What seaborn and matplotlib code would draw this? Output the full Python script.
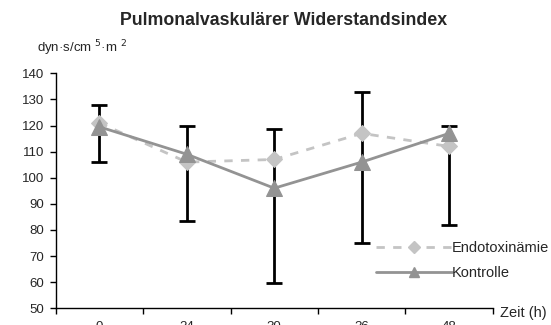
import numpy as np
import pandas as pd
import matplotlib
matplotlib.use("Agg")
import matplotlib.pyplot as plt
import seaborn as sns
from matplotlib.lines import Line2D

zeit_labels = ["0", "24", "30", "36", "48"]
endotoxin = [121, 106, 107, 117, 112]
kontrolle = [119.5, 109, 96, 106, 117]
err_low = [106, 83.5, 59.5, 75, 82]
err_high = [128, 120, 118.5, 133, 120]

sns.set_theme(style="white")
plt.rcParams['font.family'] = ['Liberation Sans', 'DejaVu Sans']

fig = plt.figure(figsize=(5.51, 3.25), dpi=100)
ax = fig.add_axes([0.101, 0.0514, 0.7935, 0.723])

x = np.arange(len(zeit_labels))
df = pd.DataFrame({"x": x, "Endotoxinämie": endotoxin, "Kontrolle": kontrolle})

lo = np.array(err_low)
hi = np.array(err_high)
mid = (lo + hi) / 2
half = (hi - lo) / 2
ax.errorbar(x, mid, yerr=half, fmt='none', ecolor='black', elinewidth=2.0,
            capsize=5.5, capthick=2.0, zorder=2)

sns.lineplot(data=df, x="x", y="Endotoxinämie", ax=ax, color="#c4c4c4",
             linestyle=(0, (3, 3)), linewidth=2.0, marker="D", markersize=8,
             markeredgecolor="#c4c4c4", zorder=3)
sns.lineplot(data=df, x="x", y="Kontrolle", ax=ax, color="#939393",
             linestyle="-", linewidth=2.0, marker="^", markersize=11,
             markeredgecolor="#939393", zorder=4)

ax.set_xlim(-0.5, len(zeit_labels) - 0.5)
ax.set_ylim(50, 140)
ax.set_yticks(np.arange(50, 141, 10))
ax.set_xticks(np.arange(-0.5, len(zeit_labels)), labels=[""] * (len(zeit_labels) + 1))
ax.set_xticks(x, labels=zeit_labels, minor=True)
ax.tick_params(axis='x', which='major', direction='out', length=4, width=1, color='black')
ax.tick_params(axis='x', which='minor', length=0, pad=9, labelsize=9.5)
ax.tick_params(axis='y', direction='out', length=4, width=1, color='black', labelsize=9.5, pad=4)
ax.tick_params(axis='x', which='major', bottom=True)
ax.tick_params(axis='y', left=True)
ax.set_xlabel("")
ax.set_ylabel("")
for s in ["top", "right"]:
    ax.spines[s].set_visible(False)
for s in ["left", "bottom"]:
    ax.spines[s].set_color("black")
    ax.spines[s].set_linewidth(1)

fig.text(0.514, 0.938, "Pulmonalvaskulärer Widerstandsindex", ha="center", va="center",
         fontsize=12.8, fontweight="bold")
fig.text(0.067, 0.853, "dyn·s/cm $^{5}$·m $^{2}$", ha="left", va="center", fontsize=9.5)
fig.text(0.907, 0.038, "Zeit (h)", ha="left", va="center", fontsize=10.5)

handles = [Line2D([], [], color="#c4c4c4", linestyle=(0, (3, 3)), linewidth=2.0, marker="D",
                  markersize=6, markeredgecolor="#c4c4c4"),
           Line2D([], [], color="#939393", linestyle="-", linewidth=2.0, marker="^",
                  markersize=7, markeredgecolor="#939393")]
ax.legend(handles, ["Endotoxinämie", "Kontrolle"], loc="lower right",
          bbox_to_anchor=(1.159, 0.066), frameon=False, fontsize=10.5, handlelength=5.2,
          handletextpad=0.0, labelspacing=0.7)

fig.savefig("out.png", dpi=100)
